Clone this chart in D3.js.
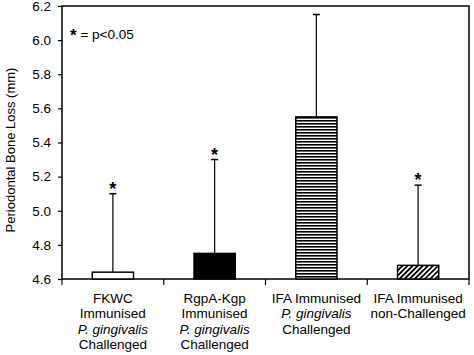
<!DOCTYPE html>
<html><head><meta charset="utf-8">
<script src="https://cdn.jsdelivr.net/npm/d3@7"></script>
<style>body{margin:0;background:#fff}svg{display:block}text{font-family:"Liberation Sans",Arial,sans-serif;fill:#000}</style>
</head><body><svg id="c" width="474" height="355"></svg>
<script>
const categories = ["FKWC", "RgpA-Kgp", "IFA P.g.", "IFA non"];
const labelLines = [
  [["FKWC",false],["Immunised",false],["P. gingivalis",true],["Challenged",false]],
  [["RgpA-Kgp",false],["Immunised",false],["P. gingivalis",true],["Challenged",false]],
  [["IFA Immunised",false],["P. gingivalis",true],["Challenged",false]],
  [["IFA Immunised",false],["non-Challenged",false]]
];
const means = [4.64, 4.75, 5.55, 4.68];
const errorTops = [5.10, 5.30, 6.15, 5.15];
const significant = [true, true, false, true];
const fills = ["white", "black", "url(#hstripe)", "url(#diag)"];
const yTicks = [4.6, 4.8, 5.0, 5.2, 5.4, 5.6, 5.8, 6.0, 6.2];

const svg = d3.select("#c");
const m = {l:62, r:5, t:6, b:76};
const W = 474, H = 355;
const x = d3.scaleBand().domain(categories).range([m.l, W - m.r]).padding(0);
const y = d3.scaleLinear().domain([4.6, 6.2]).range([H - m.b, m.t]);

const defs = svg.append("defs");
const hp = defs.append("pattern").attr("id","hstripe").attr("patternUnits","userSpaceOnUse").attr("width",4).attr("height",3);
hp.append("rect").attr("width",4).attr("height",3).attr("fill","white");
hp.append("rect").attr("width",4).attr("height",1.6).attr("fill","black");
const dp = defs.append("pattern").attr("id","diag").attr("patternUnits","userSpaceOnUse").attr("width",3.6).attr("height",3.6).attr("patternTransform","rotate(45)");
dp.append("rect").attr("width",3.6).attr("height",3.6).attr("fill","white");
dp.append("rect").attr("width",1.8).attr("height",3.6).attr("fill","black");

// frame
svg.append("rect").attr("x",m.l).attr("y",m.t).attr("width",W-m.r-m.l).attr("height",H-m.b-m.t)
  .attr("fill","none").attr("stroke","#000").attr("stroke-width",1.5);

const barW = x.bandwidth()*0.405;
const g = svg.append("g");
categories.forEach((c,i)=>{
  const cx = x(c) + x.bandwidth()/2;
  g.append("line").attr("x1",cx).attr("x2",cx).attr("y1",y(means[i])).attr("y2",y(errorTops[i])).attr("stroke","#000").attr("stroke-width",1.2);
  g.append("line").attr("x1",cx-3.5).attr("x2",cx+3.5).attr("y1",y(errorTops[i])).attr("y2",y(errorTops[i])).attr("stroke","#000").attr("stroke-width",1.5);
  g.append("rect").attr("x",cx-barW/2).attr("y",y(means[i])).attr("width",barW).attr("height",y(4.6)-y(means[i]))
    .attr("fill",fills[i]).attr("stroke","#000").attr("stroke-width",1.5);
  if (significant[i]) {
    g.append("text").attr("x",cx).attr("y",y(errorTops[i])+1).attr("text-anchor","middle")
      .attr("font-size",18).attr("font-weight","bold").text("*");
  }
});

// y axis
const ya = svg.append("g").attr("transform",`translate(${m.l},0)`)
  .call(d3.axisLeft(y).tickValues(yTicks).tickFormat(d3.format(".1f")).tickSize(4).tickPadding(7));
ya.select(".domain").remove();
ya.selectAll("line").attr("stroke","#000").attr("stroke-width",1.2);
ya.selectAll("text").attr("font-size",13.5).attr("font-family",'"Liberation Sans",Arial,sans-serif');

// x axis ticks at boundaries
const bounds = categories.map(c=>x(c)).concat([W-m.r]);
svg.append("g").selectAll("line").data(bounds).join("line")
  .attr("x1",d=>d).attr("x2",d=>d).attr("y1",y(4.6)).attr("y2",y(4.6)+6).attr("stroke","#000").attr("stroke-width",1.2);

// category labels
categories.forEach((c,i)=>{
  const cx = x(c) + x.bandwidth()/2;
  const t = svg.append("text").attr("text-anchor","middle").attr("font-size",13.5);
  labelLines[i].forEach((ln,j)=>{
    t.append("tspan").attr("x",cx).attr("y",303 + j*15.4).attr("font-style",ln[1]?"italic":"normal").text(ln[0]);
  });
});

// y title
svg.append("text").attr("transform",`translate(15,150) rotate(-90)`).attr("text-anchor","middle")
  .attr("font-size",13).text("Periodontal Bone Loss (mm)");

// legend
const lg = svg.append("text").attr("x",70).attr("y",39).attr("font-size",13.5);
lg.append("tspan").attr("font-size",17).attr("font-weight","bold").attr("dy",2).text("*");
lg.append("tspan").attr("dy",-2).text(" = p<0.05");
</script></body></html>
